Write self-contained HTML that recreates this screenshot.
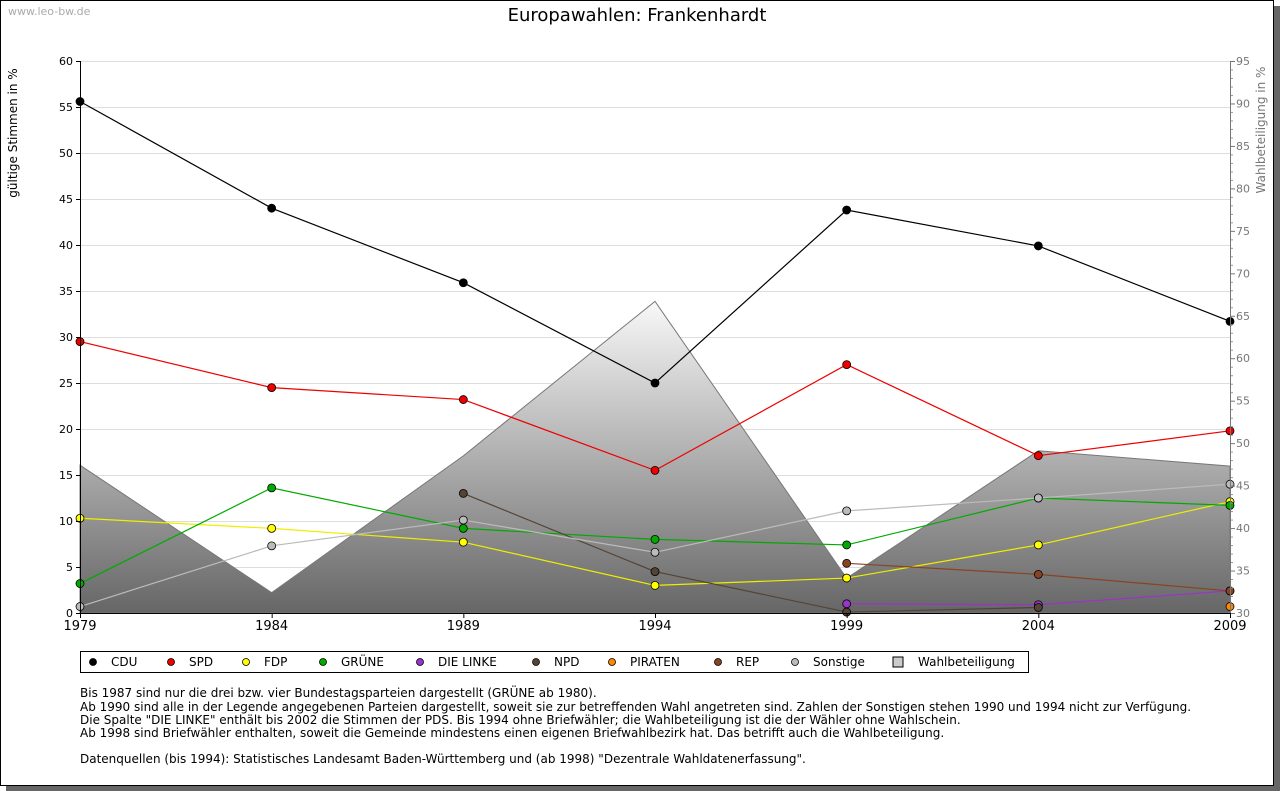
<!DOCTYPE html>
<html><head><meta charset="utf-8"><style>
body{margin:0;background:#fff;font-family:"DejaVu Sans","Liberation Sans",sans-serif;}
#wrap{position:relative;width:1280px;height:791px;overflow:hidden;}
</style></head><body>
<div id="wrap">
<svg id="chart" width="1280" height="791" xmlns="http://www.w3.org/2000/svg" font-family="DejaVu Sans, Liberation Sans, sans-serif">
<defs>
<linearGradient id="wg" x1="0" y1="0" x2="0" y2="1">
<stop offset="0" stop-color="#f8f8f8"/><stop offset="1" stop-color="#666"/>
</linearGradient>
</defs>
<rect x="6" y="6" width="1274" height="785" fill="#666"/>
<rect x="0.5" y="0.5" width="1273" height="785" fill="#fff" stroke="#000"/>
<text x="8" y="15" font-size="11" fill="#aaa">www.leo-bw.de</text>
<text x="637" y="21" font-size="18" text-anchor="middle">Europawahlen: Frankenhardt</text>
<text transform="translate(17,133) rotate(-90)" font-size="12" text-anchor="middle">gültige Stimmen in %</text>
<text transform="translate(1265,130) rotate(-90)" font-size="12" text-anchor="middle" fill="#777">Wahlbeteiligung in %</text>
<g id="grid"></g><g id="area"></g><g id="lines"></g><g id="axes"></g>
<g>
<rect x="80.5" y="651.5" width="948" height="21" fill="#fff" stroke="#000"/>
<g id="legend"></g>
</g>
<g font-size="12">
<text x="80" y="697">Bis 1987 sind nur die drei bzw. vier Bundestagsparteien dargestellt (GRÜNE ab 1980).</text>
<text x="80" y="711">Ab 1990 sind alle in der Legende angegebenen Parteien dargestellt, soweit sie zur betreffenden Wahl angetreten sind. Zahlen der Sonstigen stehen 1990 und 1994 nicht zur Verfügung.</text>
<text x="80" y="724">Die Spalte "DIE LINKE" enthält bis 2002 die Stimmen der PDS. Bis 1994 ohne Briefwähler; die Wahlbeteiligung ist die der Wähler ohne Wahlschein.</text>
<text x="80" y="737">Ab 1998 sind Briefwähler enthalten, soweit die Gemeinde mindestens einen eigenen Briefwahlbezirk hat. Das betrifft auch die Wahlbeteiligung.</text>
<text x="80" y="763">Datenquellen (bis 1994): Statistisches Landesamt Baden-Württemberg und (ab 1998) "Dezentrale Wahldatenerfassung".</text>
</g>
</svg>
</div>
<script>
const years=[1979,1984,1989,1994,1999,2004,2009];
const cdu=[55.6,44.0,35.9,25.0,43.8,39.9,31.7];
const spd=[29.5,24.5,23.2,15.5,27.0,17.1,19.8];
const fdp=[10.3,9.2,7.7,3.0,3.8,7.4,12.1];
const gruene=[3.2,13.6,9.2,8.0,7.4,12.5,11.7];
const linke=[null,null,null,null,1.0,0.9,2.4];
const npd=[null,null,13.0,4.5,0.1,0.6,null];
const piraten=[null,null,null,null,null,null,0.7];
const rep=[null,null,null,null,5.4,4.2,2.4];
const sonstige=[0.7,7.3,10.1,6.6,11.1,12.5,14.0];
const turnout=[47.4,32.4,48.5,66.7,34.1,49.1,47.3];
const leftTicks=[0,5,10,15,20,25,30,35,40,45,50,55,60];
const rightTicks=[30,35,40,45,50,55,60,65,70,75,80,85,90,95];
const NS="http://www.w3.org/2000/svg";
const X0=80,X1=1230,YB=613,YT=61;
const x=y=>X0+(y-1979)/(2009-1979)*(X1-X0);
const yl=v=>YB-v/60*(YB-YT);
const yr=v=>YB-(v-30)/65*(YB-YT);
function mk(tag,at,parent){const e=document.createElementNS(NS,tag);for(const k in at)e.setAttribute(k,at[k]);parent.appendChild(e);return e;}
const grid=document.getElementById('grid'),axes=document.getElementById('axes'),area=document.getElementById('area'),lines=document.getElementById('lines');
leftTicks.forEach(t=>{
 if(t>0){const g=mk('line',{x1:X0,x2:X1,y1:yl(t)+.5,y2:yl(t)+.5,stroke:'#ddd'},grid);
 
 }
 const tx=mk('text',{x:73,y:yl(t)+4,'font-size':11,'text-anchor':'end'},axes);tx.textContent=t;
 
 
 mk('line',{x1:X0-4,x2:X0,y1:yl(t)+.5,y2:yl(t)+.5,stroke:'#000'},axes);
});
rightTicks.forEach(t=>{
 const tx=mk('text',{x:1236,y:yr(t)+4,'font-size':11,fill:'#777'},axes);tx.textContent=t;
 
 
 mk('line',{x1:X1,x2:X1+5,y1:yr(t)+.5,y2:yr(t)+.5,stroke:'#777'},axes);
});
for(let v=31;v<95;v++){if(v%5)mk('line',{x1:X1,x2:X1+3,y1:yr(v)+.5,y2:yr(v)+.5,stroke:'#999'},axes);}
mk('line',{x1:X0+.5,x2:X0+.5,y1:YT,y2:YB,stroke:'#000'},axes);
mk('line',{x1:X1+.5,x2:X1+.5,y1:YT,y2:YB,stroke:'#777'},axes);
mk('line',{x1:X0,x2:X1,y1:YB+.5,y2:YB+.5,stroke:'#000'},axes);
years.forEach(yv=>{
 mk('line',{x1:x(yv)+.5,x2:x(yv)+.5,y1:YB,y2:YB+5,stroke:'#000'},axes);
 const tx=mk('text',{x:x(yv),y:YB+17,'font-size':13,'text-anchor':'middle'},axes);tx.textContent=yv;
 
 
});
let d='M'+x(years[0])+','+YB;
years.forEach((yv,i)=>{d+=' L'+x(yv)+','+yr(turnout[i]);});
d+=' L'+x(years[years.length-1])+','+YB+' Z';
const ar=mk('path',{d:d,fill:'url(#wg)',stroke:'#777'},area);


const series=[
 ['CDU',cdu,'#000','#000'],['SPD',spd,'#e00','#e00'],['FDP',fdp,'#ee0','#ff0'],['GRÜNE',gruene,'#0a0','#0a0'],
 ['DIE LINKE',linke,'#93c','#93c'],['NPD',npd,'#543','#543'],['PIRATEN',piraten,'#f80','#f80'],['REP',rep,'#842','#842'],['Sonstige',sonstige,'#bbb','#bbb']];
series.forEach(([name,vals,lc,fc])=>{
 let pts=[];years.forEach((yv,i)=>{if(vals[i]!=null)pts.push([x(yv),yl(vals[i])]);});
 if(pts.length>1){const pl=mk('polyline',{points:pts.map(p=>p.join(',')).join(' '),fill:'none',stroke:lc,'stroke-width':1.2},lines);
 
 }
 pts.forEach(p=>{const c=mk('circle',{cx:p[0],cy:p[1],r:4,fill:fc,stroke:'#000','stroke-width':0.8},lines);
 
 });
});
const lg=document.getElementById('legend');
const lx=[93,171,246,323,420,536,612,718,795,898];
series.forEach(([name,vals,lc,fc],i)=>{
 mk('circle',{cx:lx[i],cy:662,r:3.5,fill:fc,stroke:'#000','stroke-width':0.8},lg);
 const t=mk('text',{x:lx[i]+18,y:666,'font-size':12},lg);t.textContent=name;
 
 
});
mk('rect',{x:lx[9]-5,y:657,width:10,height:10,fill:'#ccc',stroke:'#000'},lg);
const t=mk('text',{x:lx[9]+20,y:666,'font-size':12},lg);t.textContent='Wahlbeteiligung';


</script>
</body></html>
